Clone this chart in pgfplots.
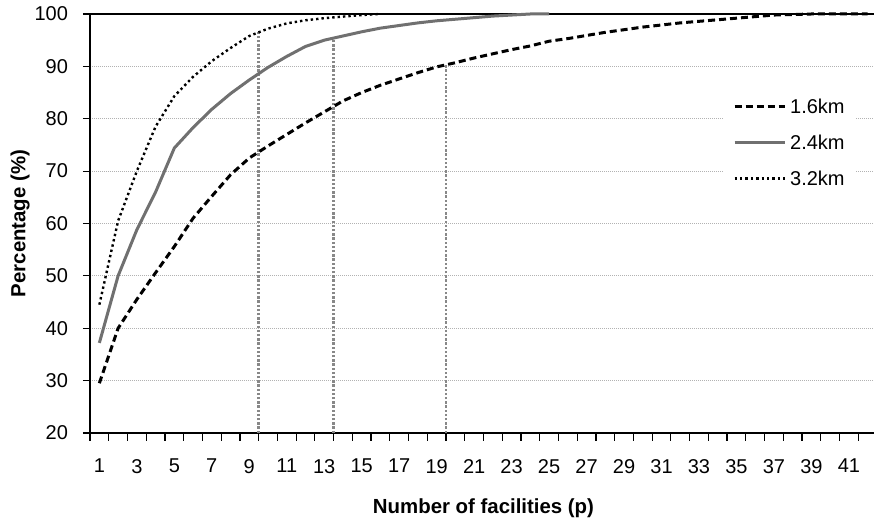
\documentclass[border=0pt]{standalone}
\usepackage{fontspec}
\setmainfont{Liberation Sans}
\usepackage{pgfplots}
\pgfplotsset{compat=1.18}
\definecolor{midgray}{RGB}{112,112,112}
\definecolor{vgray}{RGB}{136,136,136}
\begin{document}
\fontsize{10pt}{12pt}\selectfont
\begin{tikzpicture}
\begin{axis}[
  at={(0,0)}, anchor=south west,
  scale only axis, width=393.5pt, height=209.5pt,
  xmin=0.5, xmax=42.5, ymin=20, ymax=100,
  clip=false,
  xtick={1,3,...,41},
  ytick={20,30,...,100},
  minor xtick={0.5,1.5,...,42.5},
  xtick pos=bottom, ytick pos=left,
  tick align=outside,
  major tick length=3.5pt, minor tick length=4pt,
  major x tick style={draw=none},
  minor x tick style={black, line width=0.6pt},
  y tick style={black, line width=0.6pt},
  ymajorgrids,
  major grid style={gray!60, line width=0.5pt, dash pattern=on 0.5pt off 0.5pt},
  axis line style={black, line width=0.8pt},
  tick label style={font=\fontsize{10}{12}\selectfont},
  xticklabel style={yshift=-6pt},
  yticklabel style={xshift=-4pt},
  /pgf/number format/assume math mode=true,
  xlabel={Number of facilities (p)}, ylabel={Percentage (\%)},
  label style={font=\bfseries\fontsize{10.2}{12}\selectfont},
  xlabel style={at={(axis description cs:0.5,-0.179)}, anchor=center},
  ylabel style={at={(axis description cs:-0.0889,0.5)}, anchor=center},
  legend style={at={(0.804,0.826)}, anchor=north west, draw=none, fill=white,
    font=\fontsize{10}{12}\selectfont, inner xsep=5pt, inner ysep=6pt,
    nodes={inner sep=0pt, text height=7.2pt, text depth=0pt},
    row sep=10.8pt, column sep=2pt},
  legend cell align=left,
  legend image code/.code={\draw[#1] (0pt,0pt) -- (25pt,0pt);},
]
\addplot[vgray, line width=1.2pt, dash pattern=on 1.2pt off 0.9pt, forget plot] coordinates {(9.5,20) (9.5,96.5)};
\addplot[vgray, line width=1.2pt, dash pattern=on 1.2pt off 0.9pt, forget plot] coordinates {(13.5,20) (13.5,95.4)};
\addplot[vgray, line width=1.2pt, dash pattern=on 1.2pt off 0.9pt, forget plot] coordinates {(19.5,20) (19.5,90.3)};
\addplot[black, line width=1.5pt, dash pattern=on 3.5pt off 2pt] coordinates {
(1,29.5) (2,40.0) (3,45.5) (4,50.6) (5,55.6) (6,61.0) (7,65.2) (8,69.3) (9,72.5) (10,74.8)
(11,77.0) (12,79.2) (13,81.3) (14,83.4) (15,85.0) (16,86.4) (17,87.6) (18,88.8) (19,89.9) (20,90.7)
(21,91.6) (22,92.4) (23,93.2) (24,93.9) (25,94.8) (26,95.3) (27,95.9) (28,96.5) (29,97.0) (30,97.5)
(31,97.9) (32,98.3) (33,98.6) (34,98.9) (35,99.2) (36,99.5) (37,99.8) (38,99.9) (39,100) (40,100)
(41,100) (42,100)};
\addlegendentry{1.6km}
\addplot[midgray, line width=1.5pt] coordinates {
(1,37.2) (2,50.0) (3,58.8) (4,66.0) (5,74.4) (6,78.3) (7,81.8) (8,84.8) (9,87.4) (10,89.8)
(11,91.9) (12,93.8) (13,95.0) (14,95.8) (15,96.6) (16,97.3) (17,97.8) (18,98.3) (19,98.7) (20,99.0)
(21,99.3) (22,99.6) (23,99.8) (24,100) (25,100)};
\addlegendentry{2.4km}
\addplot[black, line width=1.2pt, dash pattern=on 1.2pt off 1.5pt] coordinates {
(1,44.5) (2,60.5) (3,70.0) (4,78.5) (5,84.3) (6,88.0) (7,91.0) (8,93.5) (9,95.8) (10,97.2)
(11,98.2) (12,98.8) (13,99.2) (14,99.5) (15,99.8) (16,100)};
\addlegendentry{3.2km}
\end{axis}
\pgfresetboundingbox
\useasboundingbox (-45pt,-44.5pt) rectangle (392pt,216.5pt);
\end{tikzpicture}
\end{document}
